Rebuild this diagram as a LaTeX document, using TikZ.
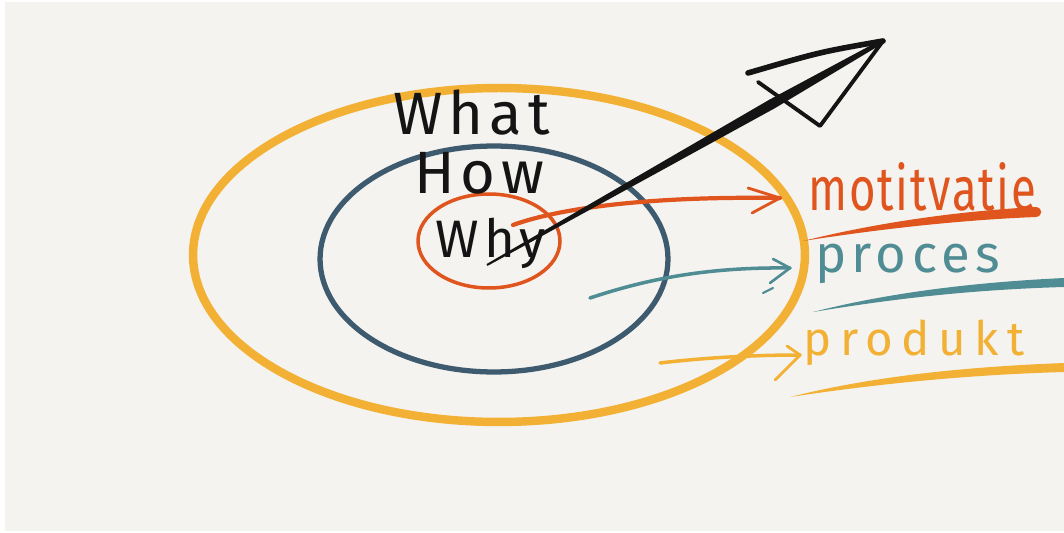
\documentclass[tikz,border=0pt]{standalone}
\usepackage{fontspec}
\setmainfont{Fira Sans}
\newfontfamily\handfont[LetterSpace=10]{Fira Sans}
\newfontfamily\handwide[LetterSpace=18]{Fira Sans}
\newfontfamily\handnarrow[FakeStretch=0.74,LetterSpace=3]{Fira Sans}
\usetikzlibrary{shapes.geometric,calc}
\definecolor{sketchbg}{HTML}{F4F3EF}
\definecolor{ringyellow}{HTML}{F2B134}
\definecolor{ringblue}{HTML}{3E5A6E}
\definecolor{ringred}{HTML}{E0541E}
\definecolor{penteal}{HTML}{4F8C94}
\definecolor{penblack}{HTML}{141414}
\tikzset{
  ring/.style={ellipse, draw, inner sep=0pt},
  word/.style={anchor=base west, inner sep=0pt},
  stroke/.style={line cap=round, line join=round},
}

\begin{document}
\begin{tikzpicture}[x=0.02cm, y=-0.02cm]
  \useasboundingbox (0,0) rectangle (1064,533);
  \fill[white] (0,0) rectangle (1064,533);
  \fill[sketchbg] (5,2) rectangle (1064,531);

  % the three rings
  \node[ring, draw=ringyellow, line width=4.8pt, minimum width=12.24cm, minimum height=6.68cm] (outer) at (499,255) {};
  \node[ring, draw=ringblue, line width=3pt, minimum width=6.96cm, minimum height=4.52cm] (middle) at (494,259) {};
  \node[ring, draw=ringred, line width=2pt, minimum width=2.84cm, minimum height=1.88cm] (inner) at (489,241) {};

  \node[word, font=\handfont\fontsize{34}{34}\selectfont, text=penblack] (what) at (393,135) {What};
  \node[word, font=\handfont\fontsize{34}{34}\selectfont, text=penblack] (how) at (414,194) {How};
  \node[word, font=\handfont\fontsize{30}{30}\selectfont, text=penblack] (why) at (435,258) {Why};

  % labels on the right
  \node[word, font=\handnarrow\fontsize{35}{35}\selectfont, text=ringred] (motiv) at (808,211) {motitvatie};
  \node[word, font=\handfont\fontsize{30}{30}\selectfont, text=penteal] (proces) at (815,273) {proces};
  \node[word, font=\handwide\fontsize{27}{27}\selectfont, text=ringyellow] (produkt) at (803,356) {produkt};

  \fill[ringred] (803,241) .. controls (880,222) and (960,211) .. (1036,207) .. controls (1043,208) and (1043,216) .. (1036,217) .. controls (960,220) and (880,229) .. (803,241) -- cycle;
  \fill[penteal] (813,312) .. controls (880,295) and (960,283) .. (1064,278) -- (1064,287) .. controls (960,290) and (880,301) .. (813,312) -- cycle;
  \fill[ringyellow] (790,397) .. controls (870,377) and (960,367) .. (1064,363) -- (1064,372) .. controls (960,375) and (870,385) .. (790,397) -- cycle;

  % arrows out of the rings
  \coordinate (motiv start) at (513,225);
  \coordinate (motiv tip) at (780,198);
  \draw[stroke, ringred, line width=2.4pt] (motiv start) .. controls (560,208) and (650,196) .. (motiv tip);
  \draw[stroke, ringred, line width=1.6pt] (748,188) -- (motiv tip) -- (752,213);

  \coordinate (proces start) at (590,298);
  \coordinate (proces tip) at (790,268);
  \draw[stroke, penteal, line width=2pt] (proces start) .. controls (650,278) and (710,267) .. (proces tip);
  \draw[stroke, penteal, line width=1.5pt] (773,259) -- (proces tip) -- (770,283);
  \draw[stroke, penteal, line width=1.2pt] (763,293) -- (773,288);

  \coordinate (produkt start) at (660,363);
  \coordinate (produkt tip) at (800,355);
  \draw[stroke, ringyellow, line width=2pt] (produkt start) .. controls (710,357) and (760,355) .. (produkt tip);
  \draw[stroke, ringyellow, line width=1.6pt] (787,346) -- (produkt tip) -- (775,380);

  % big black arrow
  \coordinate (tail) at (487,265);
  \coordinate (neck) at (772,104);
  \coordinate (tip) at (883,41);
  \fill[penblack] ($(tail)+(-0.5,-0.9)$) -- ($(neck)+(-2.5,-4.4)$) -- ($(tip)+(-1,-1.7)$) -- ($(tip)+(1,1.7)$) -- ($(neck)+(2.5,4.4)$) -- ($(tail)+(0.5,0.9)$) -- cycle;
  \draw[stroke, penblack, line width=3.2pt] (tip) .. controls (820,52) .. (748,73);
  \draw[stroke, penblack, line width=2.2pt] (tip) -- (820,126) -- (758,82);
\end{tikzpicture}
\end{document}
